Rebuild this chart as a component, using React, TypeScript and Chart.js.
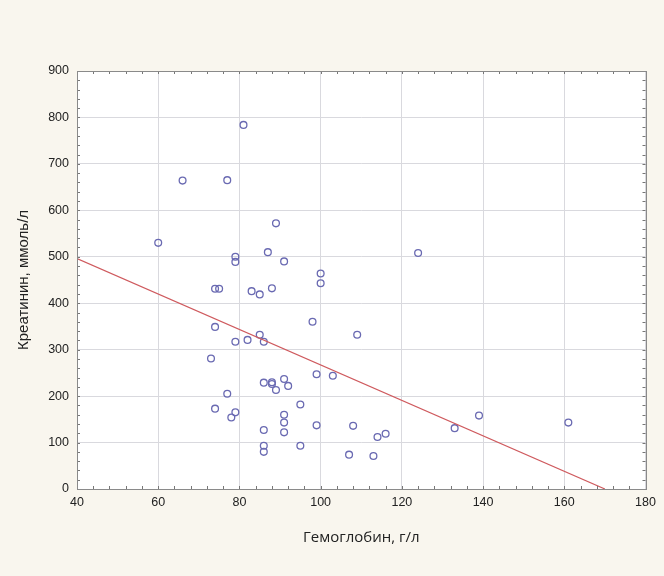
import React, { useEffect, useRef } from "react";
import { Chart, registerables } from "chart.js";

Chart.register(...registerables);

// Hemoglobin (g/l)
const hemoglobin = [
  60, 66, 77, 81, 89, 87, 79, 79, 91, 100, 100, 124, 74, 75, 83, 85, 88, 74, 98, 109,
  85, 79, 82, 86, 73, 86, 88, 88, 89, 91, 92, 99, 103, 77, 95, 74, 79, 78, 91, 91,
  91, 86, 99, 108, 86, 86, 95, 107, 113, 114, 116, 133, 139, 161,
];
// Creatinine (mmol/l)
const creatinine = [
  530, 664, 665, 784, 572, 510, 500, 489, 490, 464, 443, 508, 431, 431, 426, 419, 432, 349, 360, 332,
  332, 317, 321, 317, 281, 229, 230, 226, 213, 237, 222, 247, 244, 205, 182, 173, 165, 154, 160, 143,
  122, 127, 137, 136, 93, 80, 93, 74, 71, 112, 119, 131, 158, 143,
];
// Regression line endpoints
const fitX = [40, 170];
const fitY = [496, 0];

const xTitle = "Гемоглобин, г/л";
const yTitle = "Креатинин, ммоль/л";

const plotBackground = {
  id: "plotBackground",
  beforeDraw(chart: any) {
    const { ctx, chartArea: a } = chart;
    ctx.save();
    ctx.fillStyle = "#ffffff";
    ctx.fillRect(a.left, a.top, a.right - a.left, a.bottom - a.top);
    ctx.restore();
  },
};

const minorTicks = {
  id: "minorTicks",
  afterDatasetsDraw(chart: any) {
    const { ctx, chartArea: a, scales } = chart;
    const x = scales.x;
    const y = scales.y;
    ctx.save();
    ctx.strokeStyle = "#777";
    ctx.lineWidth = 1;
    ctx.beginPath();
    for (let v = 40; v <= 180; v += 4) {
      const px = Math.round(x.getPixelForValue(v)) + 0.5;
      ctx.moveTo(px, a.top);
      ctx.lineTo(px, a.top + 3);
      ctx.moveTo(px, a.bottom);
      ctx.lineTo(px, a.bottom - 3);
    }
    for (let v = 0; v <= 900; v += 20) {
      const py = Math.round(y.getPixelForValue(v)) + 0.5;
      ctx.moveTo(a.left, py);
      ctx.lineTo(a.left + 3, py);
      ctx.moveTo(a.right, py);
      ctx.lineTo(a.right - 3, py);
    }
    ctx.stroke();
    ctx.strokeStyle = "#8a8a8a";
    ctx.strokeRect(
      Math.round(a.left) + 0.5,
      Math.round(a.top) + 0.5,
      Math.round(a.right - a.left),
      Math.round(a.bottom - a.top)
    );
    ctx.restore();
  },
};

export default function App() {
  const ref = useRef<HTMLCanvasElement>(null);
  useEffect(() => {
    const points = hemoglobin.map((h, i) => ({ x: h, y: creatinine[i] }));
    const fit = fitX.map((v, i) => ({ x: v, y: fitY[i] }));
    const chart = new Chart(ref.current!, {
      type: "scatter",
      data: {
        datasets: [
          {
            type: "line",
            data: fit,
            borderColor: "#cf5a5e",
            borderWidth: 1.2,
            pointRadius: 0,
            fill: false,
          } as any,
          {
            data: points,
            borderColor: "#6a6ab2",
            backgroundColor: "rgba(0,0,0,0)",
            borderWidth: 1.3,
            pointRadius: 3.4,
          },
        ],
      },
      options: {
        animation: false,
        responsive: false,
        maintainAspectRatio: false,
        layout: { padding: { top: 71, right: 18.5, left: 0, bottom: 0 } },
        plugins: { legend: { display: false }, tooltip: { enabled: false } },
        scales: {
          x: {
            type: "linear",
            min: 40,
            max: 180,
            ticks: {
              stepSize: 20,
              color: "#222",
              padding: 6,
              font: { family: "Liberation Sans, Arial", size: 12.5 },
            },
            grid: { color: "#d9d9de", drawTicks: false, lineWidth: 1 },
            border: { display: false },
            title: {
              display: true,
              text: xTitle,
              color: "#222",
              font: { family: "Open Sans", size: 15 },
              padding: { top: 0, bottom: 29 },
            },
            afterFit(s: any) {
              s.height = 87;
            },
          },
          y: {
            type: "linear",
            min: 0,
            max: 900,
            ticks: {
              stepSize: 100,
              color: "#222",
              padding: 8,
              font: { family: "Liberation Sans, Arial", size: 12.5 },
            },
            grid: { color: "#d9d9de", drawTicks: false, lineWidth: 1 },
            border: { display: false },
            title: {
              display: true,
              text: yTitle,
              color: "#222",
              font: { family: "Liberation Sans, Arial", size: 15 },
              padding: { top: 15, bottom: 0 },
            },
            afterFit(s: any) {
              s.width = 77;
            },
          },
        },
      },
      plugins: [plotBackground, minorTicks],
    });
    return () => chart.destroy();
  }, []);
  return (
    <div
      style={{
        position: "fixed",
        left: 0,
        top: 0,
        width: 664,
        height: 576,
        background: "#f9f6ee",
      }}
    >
      <canvas ref={ref} width={664} height={576} style={{ display: "block" }} />
    </div>
  );
}
